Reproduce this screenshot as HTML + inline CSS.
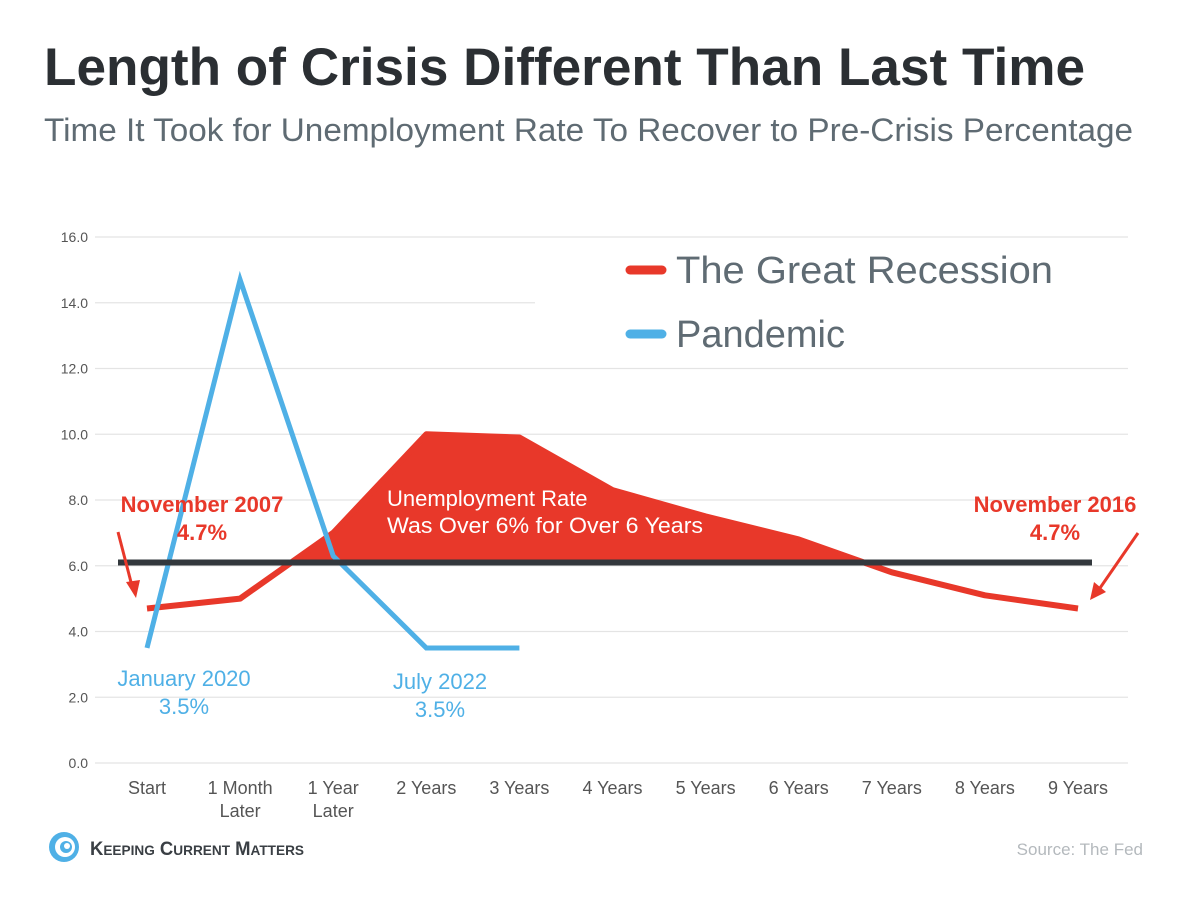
<!DOCTYPE html>
<html><head><meta charset="utf-8"><style>
body{margin:0;background:#fff;width:1180px;height:892px;overflow:hidden;font-family:"Liberation Sans",sans-serif}
</style></head><body>
<svg width="1180" height="892" xmlns="http://www.w3.org/2000/svg">
<text x="44" y="85" font-size="53" font-weight="bold" fill="#2b2f33" textLength="1041" lengthAdjust="spacingAndGlyphs">Length of Crisis Different Than Last Time</text>
<text x="44" y="141" font-size="32" fill="#5f6b73" textLength="1089" lengthAdjust="spacingAndGlyphs">Time It Took for Unemployment Rate To Recover to Pre-Crisis Percentage</text>
<g id="grid"></g>
<g id="yticks"></g>
<g id="xticks"></g>
<rect x="540" y="245" width="560" height="120" fill="#fff"/>
<g id="marks"></g>
<g>
<line x1="630" y1="270" x2="662" y2="270" stroke="#e8382a" stroke-width="9" stroke-linecap="round"/>
<text x="676" y="283" font-size="38" fill="#5f6b73" textLength="377" lengthAdjust="spacingAndGlyphs">The Great Recession</text>
<line x1="630" y1="334" x2="662" y2="334" stroke="#4fb0e6" stroke-width="9" stroke-linecap="round"/>
<text x="676" y="347" font-size="38" fill="#5f6b73">Pandemic</text>
</g>
<g font-weight="bold" font-size="22" fill="#e8382a" text-anchor="middle">
<text x="202" y="512">November 2007</text>
<text x="202" y="540">4.7%</text>
<text x="1055" y="512">November 2016</text>
<text x="1055" y="540">4.7%</text>
</g>
<g stroke="#e8382a" stroke-width="3" fill="#e8382a">
<line x1="118" y1="532" x2="132" y2="586"/><polygon points="126,582 140,580 136,598" stroke="none"/>
<line x1="1138" y1="533" x2="1100" y2="588"/><polygon points="1094,582 1106,592 1090,600" stroke="none"/>
</g>
<g font-size="22" fill="#4fb0e6" text-anchor="middle">
<text x="184" y="686">January 2020</text>
<text x="184" y="714">3.5%</text>
<text x="440" y="689">July 2022</text>
<text x="440" y="717">3.5%</text>
</g>
<text x="387" y="506" font-size="22" fill="#fff">Unemployment Rate</text>
<text x="387" y="533" font-size="22" fill="#fff" textLength="316" lengthAdjust="spacingAndGlyphs">Was Over 6% for Over 6 Years</text>
<g>
<circle cx="64" cy="847" r="15" fill="#4fb0e6"/>
<circle cx="65" cy="847" r="10" fill="#fff"/>
<circle cx="66" cy="847" r="6" fill="#4fb0e6"/>
<circle cx="67" cy="846" r="3" fill="#fff"/>
<text x="90" y="855" font-size="19" font-weight="bold" fill="#3a3f44" textLength="214" lengthAdjust="spacingAndGlyphs">K<tspan font-size="14">EEPING</tspan> C<tspan font-size="14">URRENT</tspan> M<tspan font-size="14">ATTERS</tspan></text>
</g>
<text x="1143" y="855" font-size="17" fill="#b4b9bd" text-anchor="end">Source: The Fed</text>
</svg>
<script>
const categories=["Start","1 Month\nLater","1 Year\nLater","2 Years","3 Years","4 Years","5 Years","6 Years","7 Years","8 Years","9 Years"];
const recession=[4.7,5.0,7.0,10.0,9.9,8.3,7.5,6.8,5.8,5.1,4.7];
const pandemic=[3.5,14.7,6.3,3.5,3.5];
const yTicks=[0,2,4,6,8,10,12,14,16];
const threshold=6.1;
const NS="http://www.w3.org/2000/svg";
const x=i=>147+i*93.1;
const y=v=>763-v*32.875;
function mk(tag,attrs,parent){const e=document.createElementNS(NS,tag);for(const k in attrs)e.setAttribute(k,attrs[k]);document.getElementById(parent).appendChild(e);return e;}
yTicks.forEach(v=>{
  const g=mk('line',{x1:95,x2:(v===14?535:1128),y1:y(v),y2:y(v),stroke:'#e4e4e4','stroke-width':1.2},'grid');
  
  
  const t=mk('text',{x:88,y:y(v)+5,'font-size':14,fill:'#555','text-anchor':'end'},'yticks');
  t.textContent=v.toFixed(1);
  
  
});
categories.forEach((c,i)=>{
  c.split("\n").forEach((line,j)=>{
    const t=mk('text',{x:x(i),y:794+j*23,'font-size':18,fill:'#555','text-anchor':'middle'},'xticks');
    t.textContent=line;
    
    
  });
});
const yt=y(threshold);
mk('clipPath',{id:'above'},'marks');
const cr=document.createElementNS(NS,'rect');cr.setAttribute('x',0);cr.setAttribute('y',0);cr.setAttribute('width',1180);cr.setAttribute('height',yt);
document.getElementById('above').appendChild(cr);
const rpts=recession.map((v,i)=>x(i)+','+y(v)).join(' ');
const area=mk('polygon',{points:x(0)+','+yt+' '+rpts+' '+x(recession.length-1)+','+yt,fill:'#e8382a','clip-path':'url(#above)'},'marks');


const rl=mk('polyline',{points:rpts,fill:'none',stroke:'#e8382a','stroke-width':6,'stroke-linejoin':'round'},'marks');


const pl=mk('polyline',{points:pandemic.map((v,i)=>x(i)+','+y(v)).join(' '),fill:'none',stroke:'#4fb0e6','stroke-width':5,'stroke-linejoin':'miter'},'marks');


const tl=mk('line',{x1:118,x2:1092,y1:yt,y2:yt,stroke:'#33383d','stroke-width':6},'marks');


</script>
</body></html>
